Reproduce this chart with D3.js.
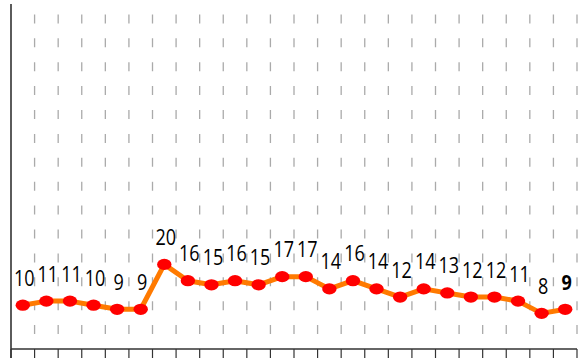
<!DOCTYPE html>
<html>
<head>
<meta charset="utf-8">
<script src="https://cdn.jsdelivr.net/npm/d3@7/dist/d3.min.js"></script>
<style>
  html, body { margin: 0; padding: 0; background: #fff; }
  svg { display: block; }
  .label { font-family: "Open Sans", "Liberation Sans", sans-serif; font-size: 22px; fill: #000; }
</style>
</head>
<body>
<svg id="chart" width="581" height="358"></svg>
<script>
// Daily counts, one point per category slot
const categories = d3.range(1, 25).map(String);
const values = [10, 11, 11, 10, 9, 9, 20, 16, 15, 16, 15, 17, 17, 14, 16, 14, 12, 14, 13, 12, 12, 11, 8, 9];

const chartW = 581, chartH = 358;
const plotLeft = 11, plotRight = 577, plotTop = 4, plotBottom = 349;

const svg = d3.select("#chart");

const x = d3.scaleBand().domain(categories).range([plotLeft, plotRight]).padding(0);
const y = d3.scaleLinear().domain([0, 80]).range([346, 19.6]);

// vertical dashed grid on every band boundary
const bounds = categories.slice(1).map(c => x(c)).concat([plotRight]);
svg.append("g")
  .selectAll("line")
  .data(bounds)
  .join("line")
  .attr("x1", d => d).attr("x2", d => d)
  .attr("y1", plotBottom).attr("y2", 0)
  .attr("stroke", "#aaa")
  .attr("stroke-width", 1.3)
  .attr("stroke-dasharray", "9 14.9")
  .attr("stroke-dashoffset", 9);

// bottom axis with ticks at band edges
const gx = svg.append("g").attr("transform", `translate(0,${plotBottom})`);
gx.selectAll("line.edge")
  .data(categories.map(c => x(c)).concat([plotRight]))
  .join("line")
  .attr("class", "edge")
  .attr("x1", d => d).attr("x2", d => d)
  .attr("y1", 0).attr("y2", 10)
  .attr("stroke", "#333").attr("stroke-width", 1.2);
gx.append("line")
  .attr("x1", plotLeft).attr("x2", plotRight)
  .attr("y1", 0).attr("y2", 0)
  .attr("stroke", "#333").attr("stroke-width", 1.5);

// left axis line
svg.append("line")
  .attr("x1", plotLeft).attr("x2", plotLeft)
  .attr("y1", plotTop).attr("y2", chartH)
  .attr("stroke", "#333").attr("stroke-width", 1.6);

const cx = (d, i) => x(categories[i]) + x.bandwidth() / 2;

// series line
const line = d3.line().x((d, i) => cx(d, i)).y(d => y(d));
svg.append("path")
  .datum(values)
  .attr("d", line)
  .attr("fill", "none")
  .attr("stroke", "#ff7a00")
  .attr("stroke-width", 5)
  .attr("stroke-linejoin", "round");

// markers
svg.append("g")
  .selectAll("ellipse")
  .data(values)
  .join("ellipse")
  .attr("cx", cx)
  .attr("cy", d => y(d))
  .attr("rx", 7.2)
  .attr("ry", 5.6)
  .attr("fill", "#ff0000");

// value labels, narrowed horizontally
svg.append("g")
  .selectAll("text")
  .data(values)
  .join("text")
  .attr("class", "label")
  .attr("transform", (d, i) => `translate(${cx(d, i) + 1.5},${y(d) - 19.5}) scale(0.82,1)`)
  .attr("text-anchor", "middle")
  .attr("font-weight", (d, i) => i === values.length - 1 ? "bold" : "normal")
  .text(d => d);
</script>
</body>
</html>
